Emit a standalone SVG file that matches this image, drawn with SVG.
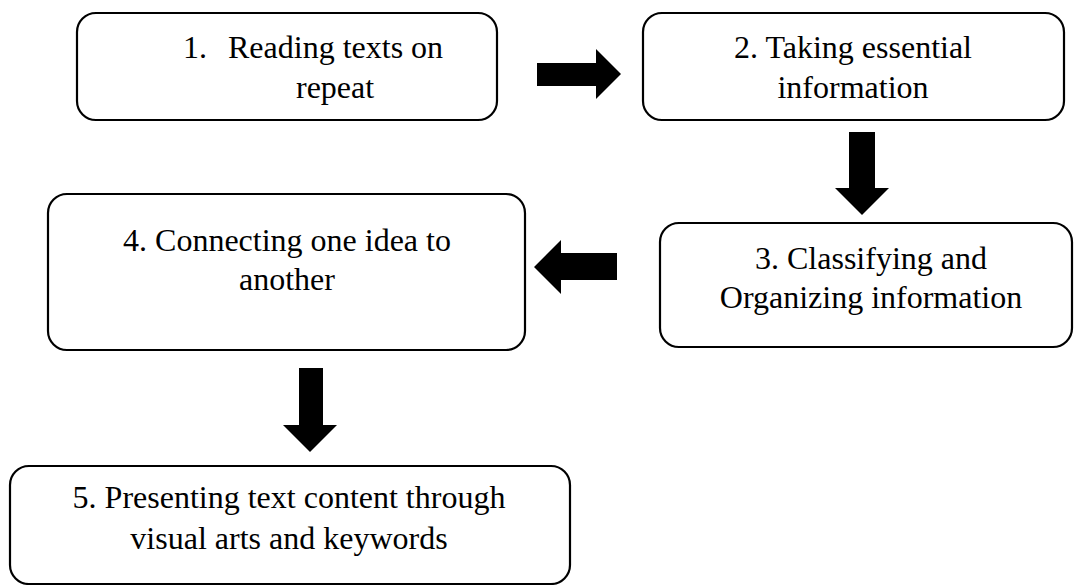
<svg xmlns="http://www.w3.org/2000/svg" width="1074" height="585" viewBox="0 0 1074 585">
<style>
.box{fill:#fff;stroke:#000;stroke-width:2.2}
.t{font-family:"Liberation Serif","Times New Roman",serif;font-size:32px;fill:#000}
.m{text-anchor:middle}
.arrow{fill:#000;stroke:none}
</style>
<rect width="1074" height="585" fill="#fff"/>
<g id="connectors">
<polygon class="arrow" points="537,63 596,63 596,49 621,74 596,99 596,86 537,86"/>
<polygon class="arrow" points="849,132 875,132 875,188 889,188 862,215 835,188 849,188"/>
<polygon class="arrow" points="617,253 561,253 561,240 534,267 561,294 561,280 617,280"/>
<polygon class="arrow" points="299,368 323,368 323,425 337,425 310,452 283,425 299,425"/>
</g>
<g id="node1">
<rect class="box" x="77" y="13" width="420" height="107" rx="19"/>
<text class="t" x="183" y="58">1.</text>
<text class="t" x="228" y="58">Reading texts on</text>
<text class="t" x="296" y="98">repeat</text>
</g>
<g id="node2">
<rect class="box" x="643" y="13" width="421" height="107" rx="19"/>
<text class="t m" x="853" y="58">2. Taking essential</text>
<text class="t m" x="853" y="98">information</text>
</g>
<g id="node3">
<rect class="box" x="660" y="223" width="412" height="124" rx="19"/>
<text class="t m" x="871" y="269">3. Classifying and</text>
<text class="t m" x="871" y="308">Organizing information</text>
</g>
<g id="node4">
<rect class="box" x="48" y="194" width="477" height="156" rx="19"/>
<text class="t m" x="287" y="251">4. Connecting one idea to</text>
<text class="t m" x="287" y="290">another</text>
</g>
<g id="node5">
<rect class="box" x="10" y="466" width="560" height="118" rx="19"/>
<text class="t m" x="289" y="508">5. Presenting text content through</text>
<text class="t m" x="289" y="549">visual arts and keywords</text>
</g>
</svg>
